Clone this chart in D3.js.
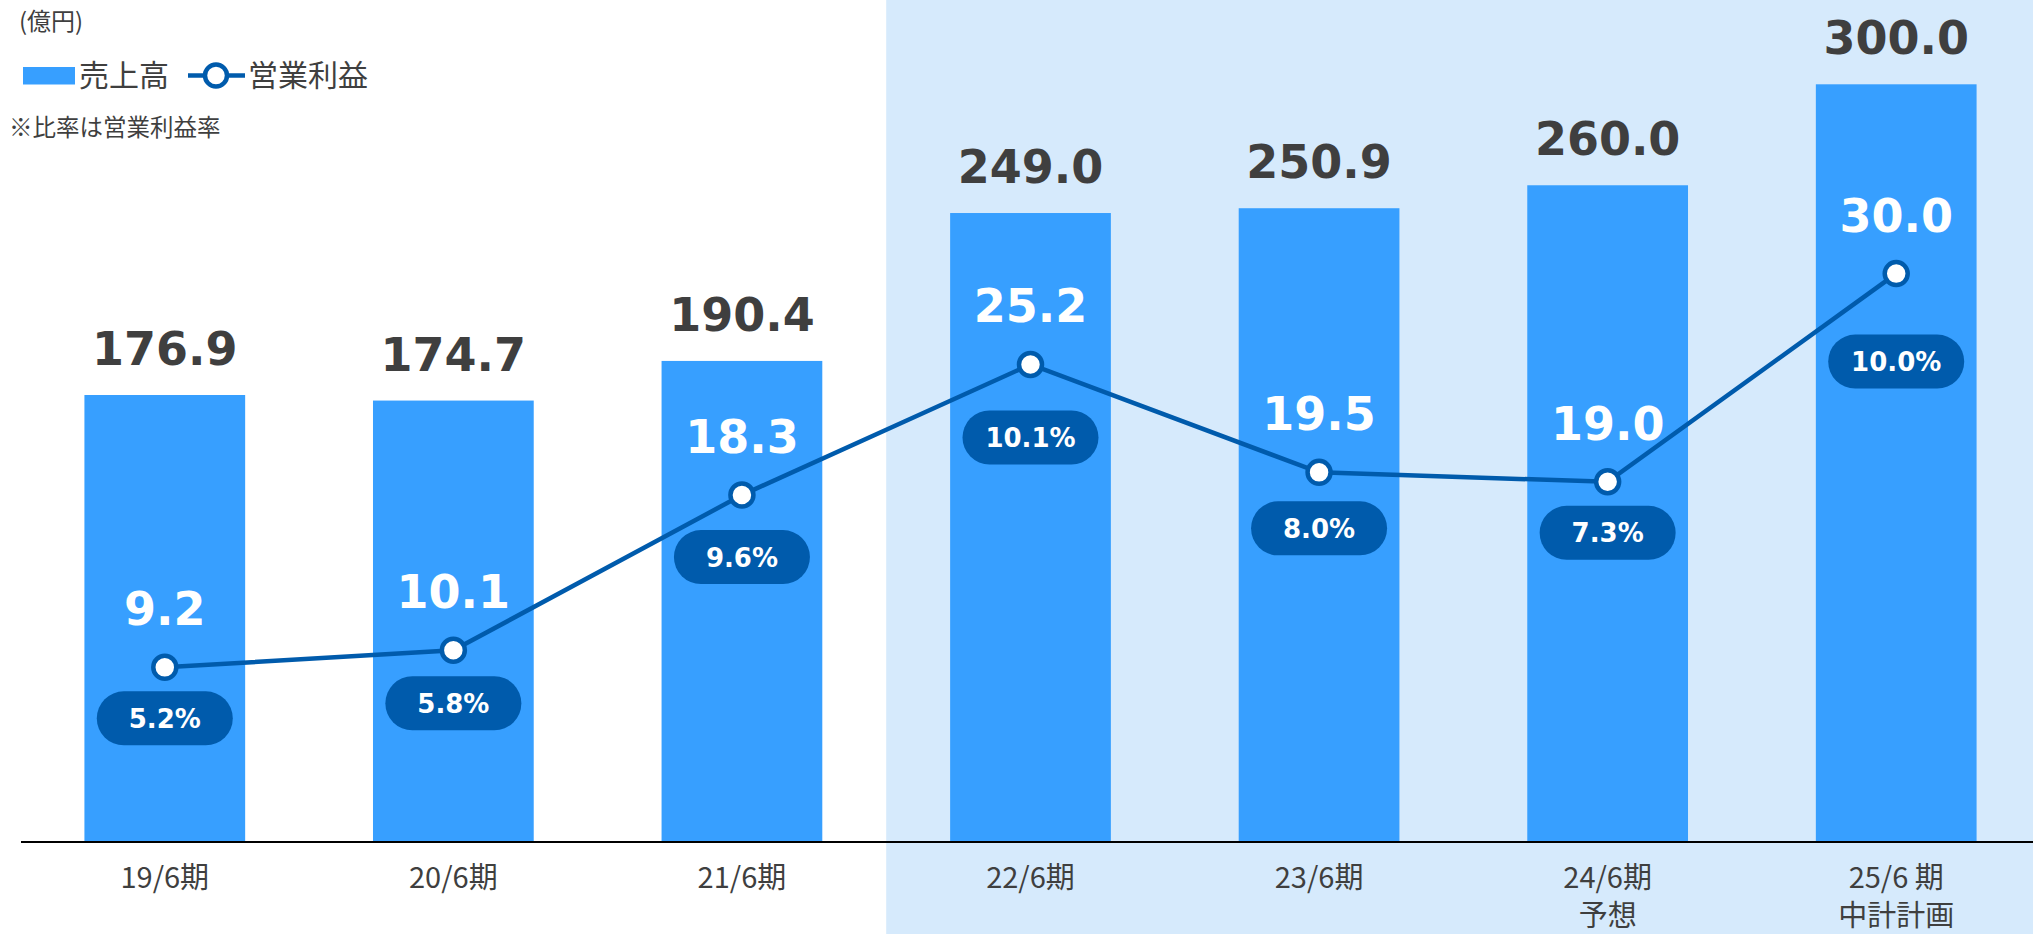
<!DOCTYPE html>
<html>
<head>
<meta charset="utf-8">
<script src="https://cdn.jsdelivr.net/npm/d3@7"></script>
<style>
  html, body { margin: 0; padding: 0; background: #ffffff; }
  svg { display: block; }
</style>
</head>
<body>
<svg id="chart" width="2033" height="934"></svg>
<script>
// ---- data ----
const categories = ["19/6期", "20/6期", "21/6期", "22/6期", "23/6期", "24/6期\n予想", "25/6 期\n中計計画"];
const sales = [176.9, 174.7, 190.4, 249.0, 250.9, 260.0, 300.0];
const operatingProfit = [9.2, 10.1, 18.3, 25.2, 19.5, 19.0, 30.0];
const profitRatio = ["5.2%", "5.8%", "9.6%", "10.1%", "8.0%", "7.3%", "10.0%"];
const salesDomain = [0, 300];
const profitDomain = [0, 40];
const unitLabel = "(億円)";
const legendSales = "売上高";
const legendProfit = "営業利益";
const noteLabel = "※比率は営業利益率";

// ---- layout (not data) ----
const W = 2033, H = 934;
const baseY = 841.5, topY = 84.3;
const pillOffsets = [51, 53, 62, 73, 56, 51, 88]; // distance of ratio pill centre below point
const C_BAR = "#379FFF", C_BG = "#D6EAFC", C_LINE = "#005BAC", C_TEXT = "#3F3F3F";
const NUM_FONT = "'DejaVu Sans', Verdana, sans-serif";
const JP_FONT = "'Noto Sans CJK JP', 'Noto Sans', sans-serif";

const svg = d3.select("#chart");

const x = d3.scaleBand().domain(categories).range([20.5, 2040.5])
  .paddingInner(0.443).paddingOuter(0.2215);
const y = d3.scaleLinear().domain(salesDomain).range([baseY, topY]);
const y2 = d3.scaleLinear().domain(profitDomain).range([baseY, topY]);
const cx = d => x(d) + x.bandwidth() / 2;

// forecast background
const bgStart = x(categories[3]) - x.step() * x.paddingInner() / 2;
svg.append("rect").attr("x", bgStart).attr("y", 0)
  .attr("width", W - bgStart).attr("height", H).attr("fill", C_BG);

// bars
svg.append("g").selectAll("rect").data(categories).join("rect")
  .attr("x", d => x(d)).attr("width", x.bandwidth())
  .attr("y", (d, i) => y(sales[i])).attr("height", (d, i) => baseY - y(sales[i]))
  .attr("fill", C_BAR);

// bar labels
svg.append("g").selectAll("text").data(categories).join("text")
  .attr("x", d => cx(d)).attr("y", (d, i) => y(sales[i]) - 30)
  .attr("text-anchor", "middle").attr("font-family", NUM_FONT)
  .attr("font-weight", "bold").attr("font-size", 46).attr("fill", C_TEXT)
  .text((d, i) => sales[i].toFixed(1));

// x axis
const axis = svg.append("g").attr("transform", `translate(0,${baseY})`)
  .call(d3.axisBottom(x).tickSize(0).tickFormat(""));
axis.select(".domain").attr("stroke", "#000").attr("stroke-width", 2);
axis.selectAll(".tick text").remove();
axis.selectAll(".tick").append("text")
  .attr("text-anchor", "middle").attr("font-family", JP_FONT)
  .attr("font-size", 29).attr("fill", C_TEXT)
  .each(function(d) {
    const lines = d.split("\n");
    const t = d3.select(this);
    lines.forEach((ln, k) => {
      t.append("tspan").attr("x", 0).attr("y", 46 + k * 38).text(ln);
    });
  });

// profit line
const line = d3.line().x((d, i) => cx(categories[i])).y(d => y2(d));
svg.append("path").datum(operatingProfit).attr("d", line)
  .attr("fill", "none").attr("stroke", C_LINE).attr("stroke-width", 4.5);

// ratio pills
const pills = svg.append("g").selectAll("g").data(categories).join("g")
  .attr("transform", (d, i) => `translate(${cx(d)},${y2(operatingProfit[i]) + pillOffsets[i]})`);
pills.append("rect").attr("x", -68).attr("y", -27).attr("width", 136).attr("height", 54)
  .attr("rx", 27).attr("fill", C_LINE);
pills.append("text").attr("text-anchor", "middle").attr("y", 9.5)
  .attr("font-family", NUM_FONT).attr("font-weight", "bold").attr("font-size", 26)
  .attr("fill", "#fff").text((d, i) => profitRatio[i]);

// points
svg.append("g").selectAll("circle").data(operatingProfit).join("circle")
  .attr("cx", (d, i) => cx(categories[i])).attr("cy", d => y2(d)).attr("r", 11.5)
  .attr("fill", "#fff").attr("stroke", C_LINE).attr("stroke-width", 4.5);

// profit labels
svg.append("g").selectAll("text").data(operatingProfit).join("text")
  .attr("x", (d, i) => cx(categories[i])).attr("y", d => y2(d) - 42)
  .attr("text-anchor", "middle").attr("font-family", NUM_FONT)
  .attr("font-weight", "bold").attr("font-size", 46).attr("fill", "#fff")
  .text(d => d.toFixed(1));

// unit + legend + note
svg.append("text").attr("x", 19).attr("y", 30).attr("font-family", JP_FONT)
  .attr("font-size", 24).attr("fill", C_TEXT).text(unitLabel);
svg.append("rect").attr("x", 23).attr("y", 67).attr("width", 52).attr("height", 17.5).attr("fill", C_BAR);
svg.append("text").attr("x", 79).attr("y", 86).attr("font-family", JP_FONT)
  .attr("font-size", 30).attr("fill", C_TEXT).text(legendSales);
svg.append("line").attr("x1", 188).attr("x2", 245).attr("y1", 75.5).attr("y2", 75.5)
  .attr("stroke", C_LINE).attr("stroke-width", 4.5);
svg.append("circle").attr("cx", 216).attr("cy", 75.5).attr("r", 11)
  .attr("fill", "#fff").attr("stroke", C_LINE).attr("stroke-width", 4.5);
svg.append("text").attr("x", 248).attr("y", 86).attr("font-family", JP_FONT)
  .attr("font-size", 30).attr("fill", C_TEXT).text(legendProfit);
svg.append("text").attr("x", 9).attr("y", 136).attr("font-family", JP_FONT)
  .attr("font-size", 23.5).attr("fill", C_TEXT).text(noteLabel);
</script>
</body>
</html>
